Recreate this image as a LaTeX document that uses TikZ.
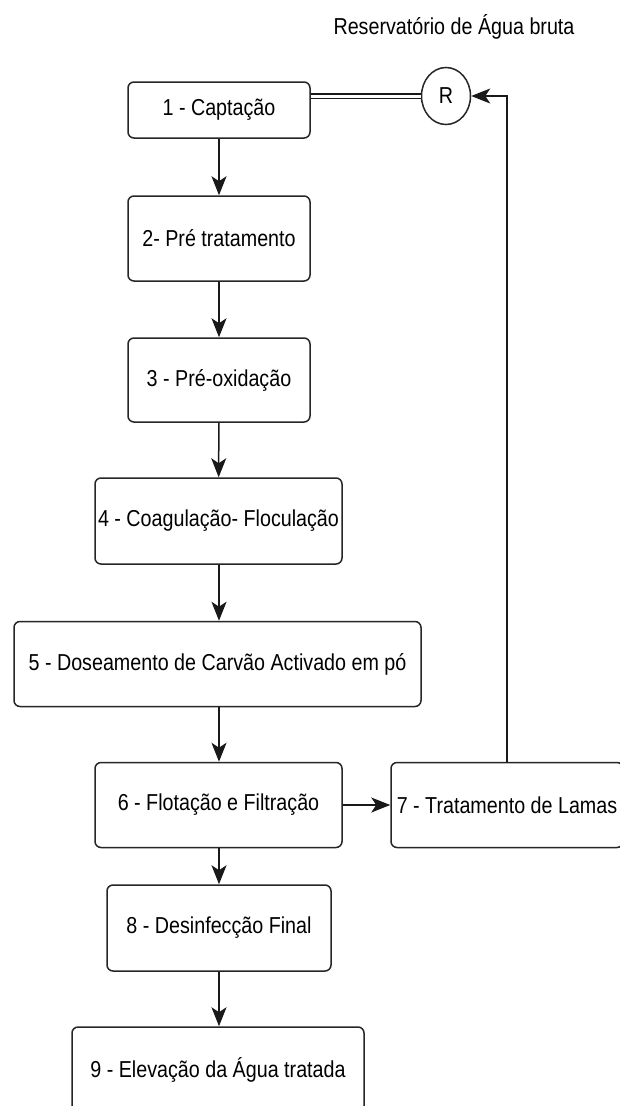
\documentclass[tikz,border=0pt]{standalone}
\usepackage{fontspec}
\usepackage{graphicx}
\setmainfont{Liberation Sans}
\usetikzlibrary{arrows.meta,shapes.geometric}
\newcommand{\tx}[1]{\scalebox{1}[1.17]{#1}}
\tikzset{
  x=1pt, y=-1pt,
  stepbox/.style={draw=black!85, line width=1.5pt, rounded corners=6pt, fill=white,
    inner sep=0pt, font=\fontsize{19.7}{22}\selectfont},
  flow/.style={draw=black!90, line width=1.5pt, -{Stealth[length=19pt,width=15pt,inset=5pt]}},
}
\begin{document}
\begin{tikzpicture}
\useasboundingbox (0,0) rectangle (620,1106);
\clip (0,0) rectangle (620,1106);
\fill[white] (0,0) rectangle (620,1106);

\node[font=\fontsize{19.7}{22}\selectfont] (title) at (454,27) {\tx{Reservatório de Água bruta}};

\node[stepbox, minimum width=182pt, minimum height=56pt] (b1) at (219,110) {\tx{1 - Captação}};
\node[stepbox, minimum width=182pt, minimum height=85pt] (b2) at (219,238.5) {\tx{2- Pré tratamento}};
\node[stepbox, minimum width=182pt, minimum height=84pt] (b3) at (219,380) {\tx{3 - Pré-oxidação}};
\node[stepbox, minimum width=247pt, minimum height=86pt] (b4) at (218.5,521) {\tx{4 - Coagulação- Floculação}};
\node[stepbox, minimum width=407pt, minimum height=85pt] (b5) at (217.5,664) {\tx{5 - Doseamento de Carvão Activado em pó}};
\node[stepbox, minimum width=247pt, minimum height=85pt] (b6) at (218.5,805) {\tx{6 - Flotação e Filtração}};
\node[stepbox, minimum width=232pt, minimum height=85pt] (b7) at (507,805) {\tx{7 - Tratamento de Lamas}};
\node[stepbox, minimum width=224pt, minimum height=86pt] (b8) at (219,928) {\tx{8 - Desinfecção Final}};
\node[stepbox, minimum width=292pt, minimum height=86pt] (b9) at (218,1070) {\tx{9 - Elevação da Água tratada}};

\node[draw=black!85, line width=1.5pt, ellipse, minimum width=49pt, minimum height=57pt, inner sep=0pt,
  font=\fontsize{19.7}{22}\selectfont] (R) at (446,96) {\tx{R}};

\draw[flow] (b1) -- (b2);
\draw[flow] (b2) -- (b3);
\draw[flow] (b3) -- (b4);
\draw[flow] (b4.south -| b3) -- (b5.north -| b3);
\draw[flow] (b5.south -| b3) -- (b6.north -| b3);
\draw[flow] (b6) -- (b7);
\draw[flow] (b6.south -| b8) -- (b8.north);
\draw[flow] (b8.south) -- (b9.north -| b8);
\draw[flow] (b7.north) |- (R.east);
\draw[draw=black!90, line width=1.3pt, double=white, double distance=3pt] (b1.east |- R.west) -- (R.west);
\end{tikzpicture}
\end{document}
